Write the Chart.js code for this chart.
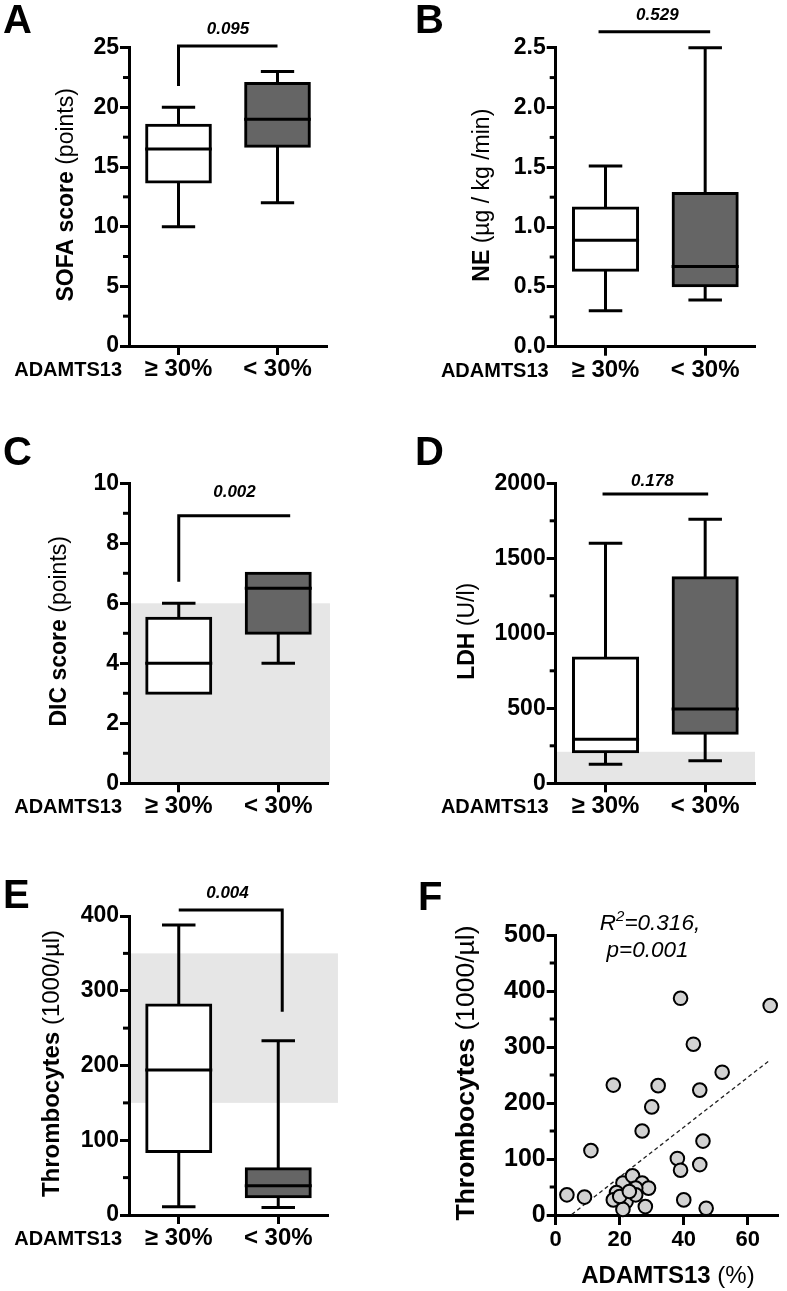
<!DOCTYPE html>
<html>
<head>
<meta charset="utf-8">
<script src="https://cdn.jsdelivr.net/npm/chart.js@4.4.0/dist/chart.umd.min.js"></script>
<style>
  html, body { margin: 0; padding: 0; background: #fff; }
  #wrap { position: relative; width: 787px; height: 1291px; overflow: hidden; }
  canvas { position: absolute; }
</style>
</head>
<body>
<div id="wrap">
  <canvas id="cA" width="390" height="420" style="left:0;top:0"></canvas>
  <canvas id="cB" width="397" height="420" style="left:390px;top:0"></canvas>
  <canvas id="cC" width="390" height="420" style="left:0;top:420px"></canvas>
  <canvas id="cD" width="397" height="420" style="left:390px;top:420px"></canvas>
  <canvas id="cE" width="390" height="451" style="left:0;top:840px"></canvas>
  <canvas id="cF" width="397" height="451" style="left:390px;top:840px"></canvas>
</div>
<script>
// ADAMTS13 groups - box plots A-E, scatter F
const groups = ['≥ 30%', '< 30%'];
const groupTitle = 'ADAMTS13';

// [min, Q1, median, Q3, max] per group
const sofaBox = [[10, 13.75, 16.5, 18.5, 20], [12, 16.75, 19, 22, 23]];
const neBox   = [[0.30, 0.64, 0.89, 1.16, 1.51], [0.39, 0.51, 0.67, 1.28, 2.5]];
const dicBox  = [[3, 3, 4, 5.5, 6], [4, 5, 6.5, 7, 7]];
const ldhBox  = [[127, 211, 293, 835, 1600], [150, 333, 495, 1370, 1760]];
const thrBox  = [[11, 85, 194, 281, 388], [10, 24.5, 39, 62, 233]];

// significance brackets [x, y]
const sofaBracket = [[0, 21.8], [0, 25.15], [1, 25.15]];
const neBracket   = [[-0.07, 2.634], [1.05, 2.634]];
const dicBracket  = [[0, 6.72], [0, 8.92], [1.12, 8.92]];
const ldhBracket  = [[-0.03, 1929], [1.03, 1929]];
const thrBracket  = [[0, 408], [1.04, 408], [1.04, 272]];

const pText = ['0.095', '0.529', '0.002', '0.178', '0.004'];
const pAt = [[0.5, 26.5], [0.52, 2.77], [0.56, 9.69], [0.47, 2011], [0.49, 431]];

// normal ranges (grey bands)
const dicBand = [0, 6];
const ldhBand = [0, 210];
const thrBand = [150, 350];

// panel F
const adamts  = [3.5, 9, 11, 18, 39, 67, 43, 52, 32, 30, 45, 27, 46, 38, 39, 45, 40, 47,
                 21, 24, 27, 29, 25, 19, 18, 22, 21, 28, 25, 20, 23];
const thrombo = [36, 32, 115, 232, 387, 374, 305, 255, 231, 193, 223, 150, 132, 101, 80, 90, 27, 12,
                 57, 70, 57, 48, 48, 40, 27, 24, 10, 15, 36, 33, 42];
const fitLine = [[5, 1], [67, 277]];
const fTicksX = [0, 20, 40, 60];

const FONT = "'Liberation Sans', Arial, Helvetica, sans-serif";
const fnt = (size, style) => `${style || 'normal'} ${size}px ${FONT}`;
const boxFill = ['#ffffff', '#656565'];

function runs(ctx, parts, x, y, align) {
  let w = 0;
  for (const p of parts) { ctx.font = p[1]; w += ctx.measureText(p[0]).width; }
  let cx = align === 'center' ? x - w / 2 : align === 'right' ? x - w : x;
  ctx.textAlign = 'left';
  for (const p of parts) {
    ctx.font = p[1];
    ctx.fillText(p[0], cx, y - (p[2] || 0));
    cx += ctx.measureText(p[0]).width;
  }
}

function seg(ctx, x0, y0, x1, y1) {
  ctx.beginPath(); ctx.moveTo(x0, y0); ctx.lineTo(x1, y1); ctx.stroke();
}

function deco(c) {
  return {
    id: 'deco',
    beforeDraw(chart) {
      if (!c.band) return;
      const { x, y } = chart.scales, ctx = chart.ctx;
      const x0 = x.getPixelForValue(x.min), x1 = x.getPixelForValue(c.bandRight);
      const y0 = y.getPixelForValue(c.band[1]), y1 = y.getPixelForValue(c.band[0]);
      ctx.save();
      ctx.fillStyle = '#e6e6e6';
      ctx.fillRect(x0, y0, x1 - x0, y1 - y0);
      ctx.restore();
    },
    afterDatasetsDraw(chart) {
      if (!c.stats) return;
      const y = chart.scales.y, ctx = chart.ctx;
      const py = v => y.getPixelForValue(v);
      ctx.save();
      ctx.strokeStyle = '#000';
      ctx.lineWidth = 3;
      chart.getDatasetMeta(0).data.forEach((bar, i) => {
        const [mn, q1, md, q3, mx] = c.stats[i];
        const half = bar.width / 2 + 1.5, cap = half / 2;
        seg(ctx, bar.x - half, py(md), bar.x + half, py(md));
        if (mx > q3) {
          seg(ctx, bar.x, py(q3), bar.x, py(mx));
          seg(ctx, bar.x - cap, py(mx), bar.x + cap, py(mx));
        }
        if (mn < q1) {
          seg(ctx, bar.x, py(q1), bar.x, py(mn));
          seg(ctx, bar.x - cap, py(mn), bar.x + cap, py(mn));
        }
      });
      ctx.restore();
    },
    afterDraw(chart) {
      const ctx = chart.ctx, a = chart.chartArea, { x, y } = chart.scales;
      ctx.save();
      ctx.fillStyle = '#000';
      ctx.strokeStyle = '#000';
      // minor ticks on y
      ctx.lineWidth = 3;
      for (let k = 1; k * c.minor < c.max; k++) {
        const v = k * c.minor;
        if (Math.abs(v / c.step - Math.round(v / c.step)) < 1e-6) continue;
        const p = y.getPixelForValue(v);
        seg(ctx, a.left - 6, p, a.left, p);
      }
      // panel letter
      ctx.textBaseline = 'alphabetic';
      ctx.textAlign = 'left';
      ctx.font = fnt(40, 'bold');
      ctx.fillText(c.letter, c.letterAt[0], c.letterAt[1]);
      // y title
      ctx.save();
      ctx.translate(c.titleX, (a.top + a.bottom) / 2 - 2);
      ctx.rotate(-Math.PI / 2);
      ctx.textBaseline = 'middle';
      runs(ctx, c.title, 0, 0, 'center');
      ctx.restore();
      if (c.stats) {
        ctx.font = fnt(20, 'bold');
        ctx.textAlign = 'right';
        ctx.fillText(groupTitle, a.left - 7, a.bottom + 30);
        ctx.font = fnt(17, 'italic bold');
        ctx.textAlign = 'center';
        ctx.textBaseline = 'middle';
        ctx.fillText(c.p, x.getPixelForValue(c.pAt[0]), y.getPixelForValue(c.pAt[1]));
      }
      if (c.extra) c.extra(chart, ctx);
      ctx.restore();
    }
  };
}

function axisY(c, size) {
  return {
    type: 'linear', min: 0, max: c.max,
    afterFit: s => { s.width = c.left; },
    grid: { drawOnChartArea: false, tickLength: 9, tickWidth: 3, tickColor: '#000' },
    border: { color: '#000', width: 3 },
    ticks: {
      stepSize: c.step, color: '#000', padding: 1, autoSkip: false,
      font: { family: FONT, size: size, weight: 'bold' },
      callback: c.fmt || (v => v)
    }
  };
}

function boxPanel(id, c) {
  const canvas = document.getElementById(id);
  const W = canvas.width, H = canvas.height;
  return new Chart(canvas, {
    type: 'bar',
    data: {
      datasets: [
        {
          data: c.stats.map((s, i) => ({ x: i, y: [s[1], s[3]] })),
          backgroundColor: boxFill,
          borderColor: '#000',
          borderWidth: 3,
          borderSkipped: false,
          inflateAmount: 1.5,
          barPercentage: 0.643,
          categoryPercentage: 1,
          order: 1
        },
        {
          type: 'line',
          data: c.bracket.map(p => ({ x: p[0], y: p[1] })),
          borderColor: '#000',
          borderWidth: 3,
          borderJoinStyle: 'miter',
          pointRadius: 0,
          clip: false,
          order: 0
        }
      ]
    },
    options: {
      responsive: false, animation: false, devicePixelRatio: 1,
      layout: { padding: { left: 0, top: c.top, right: W - c.right, bottom: 0 } },
      plugins: { legend: { display: false }, tooltip: { enabled: false } },
      scales: {
        x: {
          type: 'linear', min: -0.5, max: 1.5, offset: false,
          afterFit: s => { s.height = H - c.bottom; },
          afterBuildTicks: s => { s.ticks = groups.map((g, i) => ({ value: i })); },
          grid: { offset: false, drawOnChartArea: false, tickLength: 9, tickWidth: 3, tickColor: '#000' },
          border: { color: '#000', width: 3 },
          ticks: {
            color: '#000', padding: 0, autoSkip: false, maxRotation: 0,
            font: { family: FONT, size: 24, weight: 'bold' },
            callback: (v, i) => groups[i]
          }
        },
        y: axisY(c, 23)
      }
    },
    plugins: [deco(c)]
  });
}

const b23 = fnt(23, 'bold'), n23 = fnt(23);

boxPanel('cA', {
  stats: sofaBox, bracket: sofaBracket, p: pText[0], pAt: pAt[0],
  max: 25, step: 5, minor: 2.5,
  left: 129, right: 327, top: 47.7, bottom: 346,
  letter: 'A', letterAt: [3, 33], titleX: 67,
  title: [['SOFA score', b23], [' (points)', n23]]
});

boxPanel('cB', {
  stats: neBox, bracket: neBracket, p: pText[1], pAt: pAt[1],
  max: 2.5, step: 0.5, minor: 0.25, fmt: v => v.toFixed(1),
  left: 165.7, right: 365, top: 47.7, bottom: 346.7,
  letter: 'B', letterAt: [25, 33], titleX: 93,
  title: [['NE', b23], [' (µg / kg /min)', n23]]
});

boxPanel('cC', {
  stats: dicBox, bracket: dicBracket, p: pText[2], pAt: pAt[2],
  band: dicBand, bandRight: 1.52,
  max: 10, step: 2, minor: 1,
  left: 129, right: 328, top: 63.3, bottom: 363.3,
  letter: 'C', letterAt: [3, 45], titleX: 60,
  title: [['DIC score', b23], [' (points)', n23]]
});

boxPanel('cD', {
  stats: ldhBox, bracket: ldhBracket, p: pText[3], pAt: pAt[3],
  band: ldhBand, bandRight: 1.5,
  max: 2000, step: 500, minor: 250,
  left: 165.7, right: 365, top: 63.3, bottom: 363.3,
  letter: 'D', letterAt: [25, 45], titleX: 78,
  title: [['LDH', b23], [' (U/l)', n23]]
});

boxPanel('cE', {
  stats: thrBox, bracket: thrBracket, p: pText[4], pAt: pAt[4],
  band: thrBand, bandRight: 1.6,
  max: 400, step: 100, minor: 50,
  left: 129, right: 328, top: 76, bottom: 375,
  letter: 'E', letterAt: [3, 68], titleX: 52,
  title: [['Thrombocytes', fnt(24, 'bold')], [' (1000/µl)', fnt(24)]]
});

// panel F - scatter with regression line
(function () {
  const canvas = document.getElementById('cF');
  const W = canvas.width, H = canvas.height;
  const c = {
    max: 500, step: 100, minor: 50,
    left: 165.7, right: 394, top: 95, bottom: 375,
    letter: 'F', letterAt: [28, 70], titleX: 77,
    title: [['Thrombocytes', fnt(26.5, 'bold')], [' (1000/µl)', fnt(26.5)]],
    extra(chart, ctx) {
      const a = chart.chartArea;
      ctx.textBaseline = 'alphabetic';
      runs(ctx, [['R', fnt(22.5, 'italic')], ['2', fnt(15, 'italic'), 8.5], ['=0.316,', fnt(22.5, 'italic')]], 260, 89.5, 'center');
      runs(ctx, [['p=0.001', fnt(22.5, 'italic')]], 257.5, 116.5, 'center');
      runs(ctx, [['ADAMTS13', fnt(24, 'bold')], [' (%)', fnt(24)]], (a.left + a.right) / 2 + 1, 443, 'center');
    }
  };
  new Chart(canvas, {
    type: 'scatter',
    data: {
      datasets: [
        {
          data: adamts.map((v, i) => ({ x: v, y: thrombo[i] })),
          pointRadius: 6.8,
          pointBackgroundColor: '#d2d2d2',
          pointBorderColor: '#000',
          pointBorderWidth: 2,
          clip: false,
          order: 0
        },
        {
          type: 'line',
          data: fitLine.map(p => ({ x: p[0], y: p[1] })),
          borderColor: '#222',
          borderWidth: 1.3,
          borderDash: [4, 3],
          pointRadius: 0,
          order: 1
        }
      ]
    },
    options: {
      responsive: false, animation: false, devicePixelRatio: 1,
      layout: { padding: { left: 0, top: c.top, right: W - c.right, bottom: 0 } },
      plugins: { legend: { display: false }, tooltip: { enabled: false } },
      scales: {
        x: {
          type: 'linear', min: 0, max: 69.5,
          afterFit: s => { s.height = H - c.bottom; },
          afterBuildTicks: s => { s.ticks = fTicksX.map(v => ({ value: v })); },
          grid: { drawOnChartArea: false, tickLength: 10, tickWidth: 3, tickColor: '#000' },
          border: { color: '#000', width: 3 },
          ticks: {
            color: '#000', padding: 2, autoSkip: false, maxRotation: 0,
            font: { family: FONT, size: 22, weight: 'bold' }
          }
        },
        y: axisY(c, 25)
      }
    },
    plugins: [deco(c)]
  });
})();
</script>
</body>
</html>
